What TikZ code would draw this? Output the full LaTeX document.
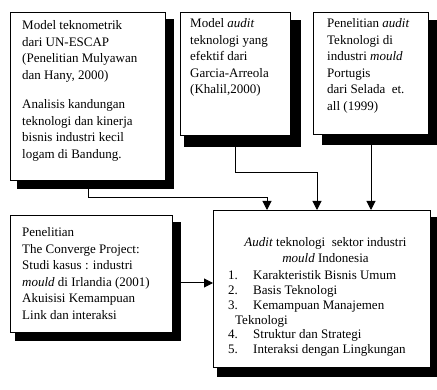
\documentclass[tikz,border=0pt]{standalone}
\usepackage{fontspec}
\setmainfont{Liberation Serif}
\usetikzlibrary{arrows.meta,backgrounds}
\begin{document}
\begin{tikzpicture}[x=1pt,y=-1pt,
    kotak/.style={draw, line width=1pt, fill=white, anchor=north west, inner sep=0pt},
    isi/.style={anchor=north west, inner sep=0pt, align=left, font=\fontsize{13}{16.5}\selectfont},
    panah/.style={line width=1pt, -{Triangle[length=9pt,width=9pt]}}]
  \useasboundingbox (0,0) rectangle (437,390);
  \node[kotak, minimum width=155pt, minimum height=168pt] (teknometrik) at (10,12) {};
  \node[kotak, minimum width=110pt, minimum height=123pt] (garcia) at (180,12) {};
  \node[kotak, minimum width=115pt, minimum height=122pt] (portugis) at (313,12) {};
  \node[kotak, minimum width=162pt, minimum height=117pt] (converge) at (10,215) {};
  \node[kotak, minimum width=217pt, minimum height=157pt] (audit) at (213,210) {};
  \begin{scope}[on background layer]
    \fill ([shift={(7,7)}]teknometrik.north west) rectangle ([shift={(8,8)}]teknometrik.south east);
    \fill ([shift={(4,8)}]garcia.north west) rectangle ([shift={(10,11)}]garcia.south east);
    \fill ([shift={(9,8)}]portugis.north west) rectangle ([shift={(9,10)}]portugis.south east);
    \fill ([shift={(5,7)}]converge.north west) rectangle ([shift={(8,8)}]converge.south east);
    \fill ([shift={(4,7)}]audit.north west) rectangle ([shift={(7,9)}]audit.south east);
  \end{scope}
  \node[isi] (teknometrikisi) at ([shift={(12,8.5)}]teknometrik.north west)
    {Model teknometrik\\ dari UN-ESCAP\\ (Penelitian Mulyawan\\ dan Hany, 2000)\\[13pt]
     Analisis kandungan\\ teknologi dan kinerja\\ bisnis industri kecil\\ logam di Bandung.};
  \node[isi] (garciaisi) at ([shift={(10,6.5)}]garcia.north west)
    {Model \textit{audit}\\ teknologi yang\\ efektif dari\\ Garcia-Arreola\\ (Khalil,2000)};
  \node[isi] (portugisisi) at ([shift={(14,6.5)}]portugis.north west)
    {Penelitian \textit{audit}\\ Teknologi di\\ industri \textit{mould}\\ Portugis\\ dari Selada\ \ et.\\ all (1999)};
  \node[isi] (convergeisi) at ([shift={(12,12.5)}]converge.north west)
    {Penelitian\\ The Converge Project:\\ Studi kasus : industri\\ \textit{mould} di Irlandia (2001)\\ Akuisisi Kemampuan\\ Link dan interaksi};
  \node[isi, align=center, anchor=north, font=\fontsize{13}{16}\selectfont] (auditjudul) at ([shift={(3.5,27.5)}]audit.north)
    {\textit{Audit} teknologi\ \ sektor industri\\ \textit{mould} Indonesia};
  \node[isi, font=\fontsize{13}{14.8}\selectfont] (auditdaftar) at ([shift={(15,60.5)}]audit.north west)
    {\makebox[25pt][l]{1.}Karakteristik Bisnis Umum\\
     \makebox[25pt][l]{2.}Basis Teknologi\\
     \makebox[25pt][l]{3.}Kemampuan Manajemen\\
     \hspace*{7pt}Teknologi\\
     \makebox[25pt][l]{4.}Struktur dan Strategi\\
     \makebox[25pt][l]{5.}Interaksi dengan Lingkungan};
  \draw[panah] (teknometrik.south) -- ++(0,17) -| ([xshift=-55pt]audit.north);
  \draw[panah] (garcia.south) -- ++(0,37) -| ([xshift=-5pt]audit.north);
  \draw[panah] (portugis.south) -- (portugis.south |- audit.north);
  \draw[panah] ([yshift=-9pt]converge.east) -- ([yshift=-9pt]converge.east -| audit.west);
\end{tikzpicture}
\end{document}
